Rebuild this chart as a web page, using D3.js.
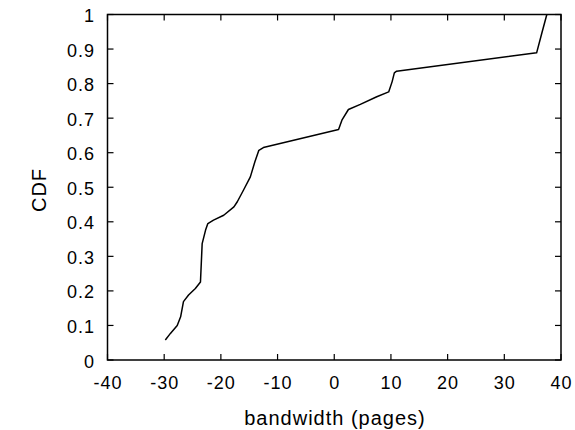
<!DOCTYPE html>
<html>
<head>
<meta charset="utf-8">
<script src="https://cdn.jsdelivr.net/npm/d3@7"></script>
<style>
  body { margin: 0; background: #fff; }
  svg { display: block; }
  text { font-family: "Liberation Sans", Arial, sans-serif; fill: #000; }
</style>
</head>
<body>
<svg id="chart" width="575" height="430"></svg>
<script>
const bandwidth = [-29.8, -28.9, -27.7, -27.1, -26.6, -25.7, -24.5, -23.6, -23.3, -22.7, -22.3, -21.3, -19.5, -17.7, -17.1, -16.0, -14.8, -14.0, -13.3, -12.5, 0.76, 1.35, 2.5, 4.6, 7.5, 9.6, 10.2, 10.6, 11.0, 35.7, 36.6, 37.5];
const cdf = [0.058, 0.077, 0.10, 0.125, 0.169, 0.188, 0.207, 0.226, 0.337, 0.376, 0.395, 0.405, 0.419, 0.443, 0.458, 0.492, 0.530, 0.574, 0.607, 0.615, 0.667, 0.694, 0.725, 0.74, 0.762, 0.776, 0.805, 0.831, 0.836, 0.889, 0.945, 1.0];
const xTicks = [-40, -30, -20, -10, 0, 10, 20, 30, 40];
const yTicks = [0, 0.1, 0.2, 0.3, 0.4, 0.5, 0.6, 0.7, 0.8, 0.9, 1];
const xLabel = "bandwidth (pages)";
const yLabel = "CDF";

const svg = d3.select("#chart");
const L = 107.5, R = 561, T = 14.5, B = 360;
const x = d3.scaleLinear().domain([-40, 40]).range([L, R]);
const y = d3.scaleLinear().domain([0, 1]).range([B, T]);
const tickLen = 6;

// frame
svg.append("rect").attr("x", L).attr("y", T).attr("width", R - L).attr("height", B - T)
  .attr("fill", "none").attr("stroke", "#000").attr("stroke-width", 1.5);

// x axis ticks (bottom + mirrored top)
const gx = svg.append("g");
xTicks.forEach(t => {
  gx.append("line").attr("x1", x(t)).attr("x2", x(t)).attr("y1", B).attr("y2", B - tickLen)
    .attr("stroke", "#000").attr("stroke-width", 1.2);
  gx.append("line").attr("x1", x(t)).attr("x2", x(t)).attr("y1", T).attr("y2", T + tickLen)
    .attr("stroke", "#000").attr("stroke-width", 1.2);
  gx.append("text").attr("x", x(t) + 0.5).attr("y", 389).attr("text-anchor", "middle")
    .attr("font-size", 18).attr("letter-spacing", "1px").text(String(t));
});

// y axis ticks
const gy = svg.append("g");
yTicks.forEach(t => {
  gy.append("line").attr("x1", L).attr("x2", L + tickLen).attr("y1", y(t)).attr("y2", y(t))
    .attr("stroke", "#000").attr("stroke-width", 1.2);
  gy.append("line").attr("x1", R).attr("x2", R - tickLen).attr("y1", y(t)).attr("y2", y(t))
    .attr("stroke", "#000").attr("stroke-width", 1.2);
  gy.append("text").attr("x", 95).attr("y", y(t) + 7.5).attr("text-anchor", "end")
    .attr("font-size", 18).attr("letter-spacing", "1px").text(t === 0 || t === 1 ? String(t) : d3.format(".1f")(t));
});

// curve
const line = d3.line().x((d, i) => x(bandwidth[i])).y((d, i) => y(cdf[i]));
svg.append("path").datum(cdf).attr("d", line).attr("fill", "none")
  .attr("stroke", "#000").attr("stroke-width", 1.5).attr("stroke-linejoin", "round");

// labels
svg.append("text").attr("x", 335).attr("y", 425).attr("text-anchor", "middle")
  .attr("font-size", 20).attr("letter-spacing", "1px").text(xLabel);
svg.append("text").attr("transform", "translate(46,190) rotate(-90)").attr("text-anchor", "middle")
  .attr("font-size", 20).attr("letter-spacing", "1px").text(yLabel);
</script>
</body>
</html>
